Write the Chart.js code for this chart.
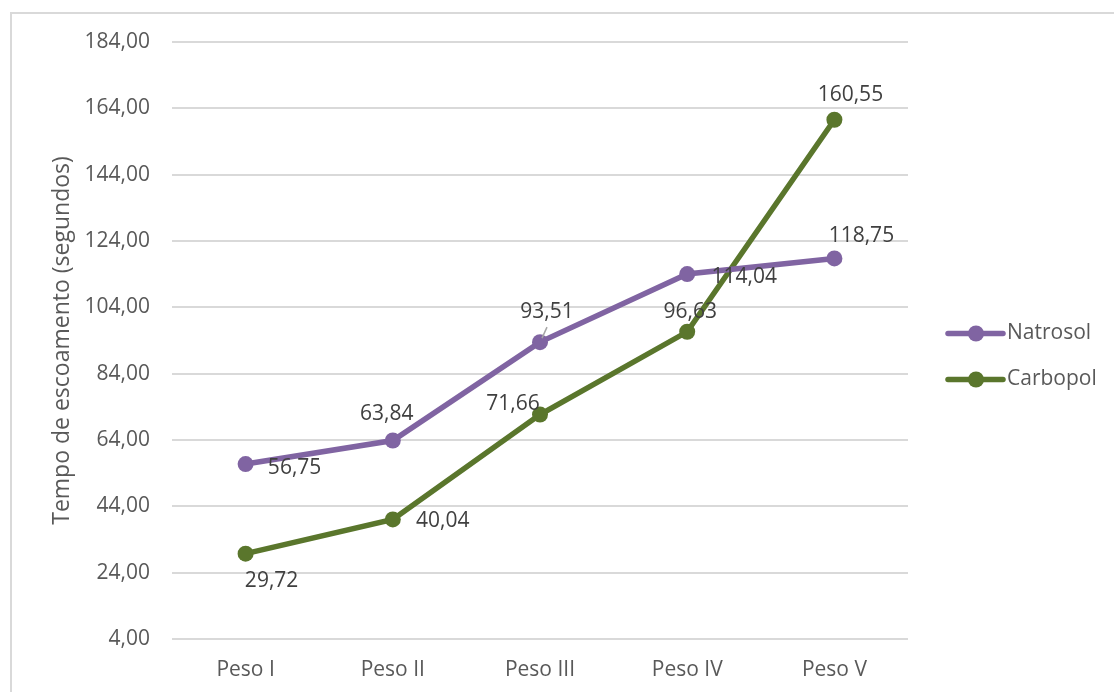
<!DOCTYPE html>
<html>
<head>
<meta charset="utf-8">
<script src="https://cdn.jsdelivr.net/npm/chart.js@4.4.0/dist/chart.umd.min.js"></script>
<style>
    body { margin: 0; background: #fff; }
    #wrap { position: relative; width: 1114px; height: 692px; overflow: hidden; }
    #frame { position: absolute; left: 10px; top: 12px; width: 2000px; height: 2000px;
             border-left: 2px solid #d9d9d9; border-top: 2px solid #d9d9d9; }
    canvas { position: absolute; left: 0; top: 0; }
</style>
</head>
<body>
<div id="wrap">
    <div id="frame"></div>
    <canvas id="chart" width="1114" height="692"></canvas>
</div>
<script>
var categories = ['Peso I', 'Peso II', 'Peso III', 'Peso IV', 'Peso V'];
var natrosol = [56.75, 63.84, 93.51, 114.04, 118.75];
var carbopol = [29.72, 40.04, 71.66, 96.63, 160.55];
var yTicks = [4, 24, 44, 64, 84, 104, 124, 144, 164, 184];
var seriesNames = ['Natrosol', 'Carbopol'];
var axisTitle = 'Tempo de escoamento (segundos)';

// where each value label sits relative to its point (dx, dy, leader line)
var natrosolLabelPos = [[49, 4], [-6, -27], [7, -30, true], [57, 3], [27, -22]];
var carbopolLabelPos = [[26, 27], [50, 2], [-27, -11], [3, -20], [16, -25]];

var FONT = "'Open Sans', 'Liberation Sans', sans-serif";
var TXT = 21;

function fmt(v) {
    return v.toFixed(2).replace('.', ',');
}

// value labels next to the points
var valueLabels = {
    id: 'valueLabels',
    afterDatasetsDraw: function(chart) {
        var ctx = chart.ctx;
        ctx.save();
        ctx.font = TXT + 'px ' + FONT;
        ctx.textAlign = 'center';
        ctx.textBaseline = 'middle';
        chart.data.datasets.forEach(function(ds, i) {
            var meta = chart.getDatasetMeta(i);
            meta.data.forEach(function(pt, j) {
                var pos = ds.labelPos[j];
                var lx = pt.x + pos[0], ly = pt.y + pos[1];
                if (pos[2]) {
                    ctx.strokeStyle = '#a6a6a6';
                    ctx.lineWidth = 1.5;
                    ctx.beginPath();
                    ctx.moveTo(pt.x + 2, pt.y - 4);
                    ctx.lineTo(lx, ly + 15);
                    ctx.stroke();
                }
                ctx.fillStyle = '#404040';
                ctx.fillText(fmt(ds.data[j]), lx, ly);
            });
        });
        ctx.restore();
    }
};

// legend on the right: line with a marker, then the name
var sideLegend = {
    id: 'sideLegend',
    afterDraw: function(chart) {
        var ctx = chart.ctx;
        var area = chart.chartArea;
        var x0 = area.right + 40;
        var yMid = (area.top + area.bottom) / 2 - 7;
        ctx.save();
        chart.data.datasets.forEach(function(ds, i) {
            var y = yMid + i * 46;
            ctx.strokeStyle = ds.borderColor;
            ctx.lineWidth = 5.5;
            ctx.lineCap = 'round';
            ctx.beginPath();
            ctx.moveTo(x0, y);
            ctx.lineTo(x0 + 55, y);
            ctx.stroke();
            ctx.fillStyle = ds.borderColor;
            ctx.beginPath();
            ctx.arc(x0 + 28, y, 8, 0, Math.PI * 2);
            ctx.fill();
            ctx.fillStyle = '#595959';
            ctx.font = TXT + 'px ' + FONT;
            ctx.textAlign = 'left';
            ctx.textBaseline = 'middle';
            ctx.fillText(ds.label, x0 + 59, y);
        });
        ctx.restore();
    }
};

var ctx = document.getElementById('chart').getContext('2d');
var chart = new Chart(ctx, {
    type: 'line',
    data: {
        labels: categories,
        datasets: [
            {
                label: seriesNames[0],
                data: natrosol,
                labelPos: natrosolLabelPos,
                borderColor: '#8064a2',
                backgroundColor: '#8064a2',
                borderWidth: 5.5,
                pointRadius: 8,
                pointBorderWidth: 0,
                pointBackgroundColor: '#8064a2',
                tension: 0
            },
            {
                label: seriesNames[1],
                data: carbopol,
                labelPos: carbopolLabelPos,
                borderColor: '#5a762c',
                backgroundColor: '#5a762c',
                borderWidth: 5.5,
                pointRadius: 8,
                pointBorderWidth: 0,
                pointBackgroundColor: '#5a762c',
                tension: 0
            }
        ]
    },
    options: {
        responsive: false,
        animation: false,
        layout: { padding: { left: 10, top: 42, right: 206, bottom: 0 } },
        plugins: {
            legend: { display: false },
            tooltip: { enabled: false }
        },
        scales: {
            x: {
                offset: true,
                grid: { display: false, drawTicks: false },
                border: { display: false },
                ticks: { color: '#595959', font: { family: FONT, size: TXT }, padding: 18 },
                afterFit: function(scale) { scale.height = 692 - 639; }
            },
            y: {
                min: yTicks[0],
                max: yTicks[yTicks.length - 1],
                afterBuildTicks: function(scale) {
                    scale.ticks = yTicks.map(function(v) { return { value: v }; });
                },
                grid: { color: '#d9d9d9', lineWidth: 2, drawTicks: false },
                border: { display: false },
                ticks: {
                    color: '#595959',
                    font: { family: FONT, size: TXT },
                    padding: 22,
                    callback: function(v) { return fmt(v); }
                },
                title: {
                    display: true,
                    text: axisTitle,
                    color: '#595959',
                    font: { family: FONT, size: 23 },
                    padding: { top: 39, bottom: 0 }
                },
                afterFit: function(scale) { scale.width = 162; }
            }
        }
    },
    plugins: [valueLabels, sideLegend]
});
</script>
</body>
</html>
